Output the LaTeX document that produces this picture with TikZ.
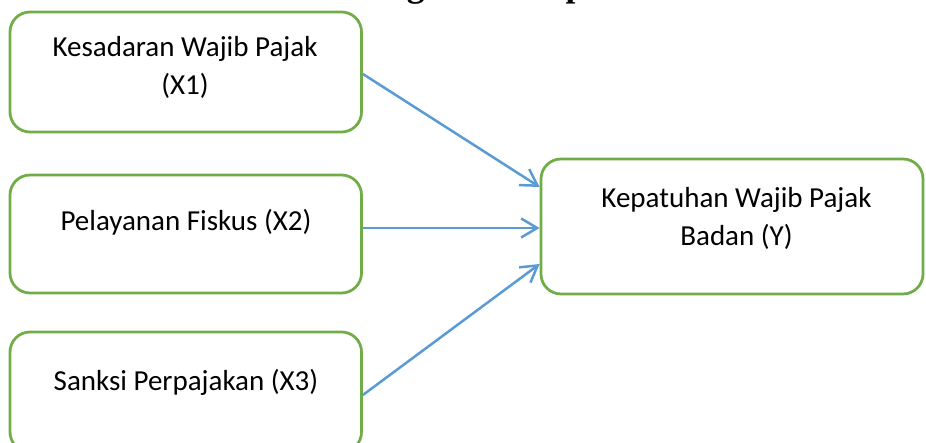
\documentclass[tikz,border=0pt]{standalone}
\usepackage{fontspec}
\setmainfont{Carlito}
\newfontfamily\titlefont{Liberation Serif}
\usetikzlibrary{arrows.meta}
\definecolor{boxgreen}{HTML}{70AD47}
\definecolor{arrowblue}{HTML}{5B9BD5}
\begin{document}
\begin{tikzpicture}[x=1pt,y=-1pt,
  varbox/.style={draw=boxgreen, line width=2.75pt, rounded corners=20pt, inner sep=0pt},
  lbl/.style={font=\fontsize{29}{38.5}\selectfont, align=center, anchor=base, inner sep=0pt},
  link/.style={draw=arrowblue, line width=2.5pt, -{Straight Barb[length=16pt,width=19pt]}}]
\useasboundingbox (0,0) rectangle (926,443);
\clip (0,0) rectangle (926,443);
\fill[white] (0,0) rectangle (926,443);
\node[font=\titlefont\bfseries\fontsize{35.5}{40}\selectfont, anchor=base west, inner sep=0pt] (title) at (310,-3) {Kerangka Konseptual};
\node[varbox, minimum width=351.5pt, minimum height=120pt] (box1) at (185.75,72) {};
\node[varbox, minimum width=351.5pt, minimum height=118pt] (box2) at (185.75,234) {};
\node[varbox, minimum width=351.5pt, minimum height=120pt] (box3) at (185.75,392) {};
\node[varbox, minimum width=382pt, minimum height=135pt] (Y) at (732,226.5) {};
\node[lbl] (t1) at (185,95) {Kesadaran Wajib Pajak\\(X1)};
\node[lbl] (t2) at (186,231) {Pelayanan Fiskus (X2)};
\node[lbl] (t3) at (186,390) {Sanksi Perpajakan (X3)};
\node[lbl] (ty) at (736.5,246) {Kepatuhan Wajib Pajak\\Badan (Y)};
\coordinate (a2) at ([yshift=6pt]box2.east);
\draw[link] ([yshift=-2pt]box1.east) -- ([yshift=39.5pt]Y.west);
\draw[link] (a2) -- (a2 -| Y.west);
\draw[link] ([yshift=-3pt]box3.east) -- ([yshift=-37.5pt]Y.west);
\end{tikzpicture}
\end{document}
